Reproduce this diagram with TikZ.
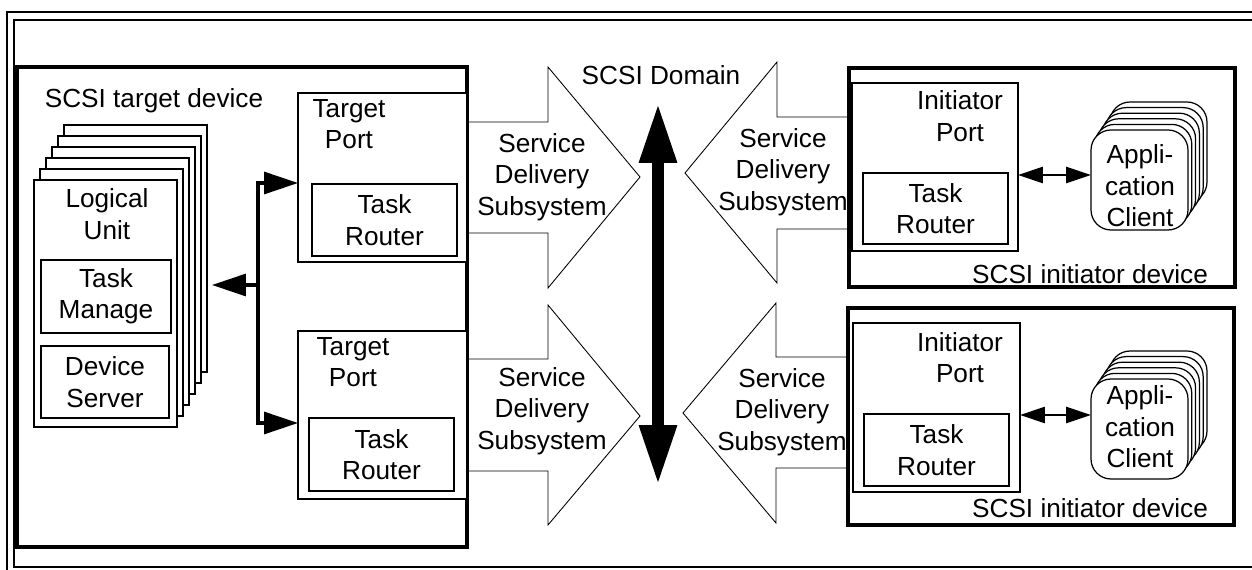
\documentclass[tikz,border=0pt]{standalone}
\usepackage{fontspec}
\setmainfont{Liberation Sans}
\usetikzlibrary{arrows.meta}
\usetikzlibrary{positioning}

\begin{document}
\begin{tikzpicture}[x=0.02cm, y=-0.02cm,
  font=\fontsize{14.9}{17.9}\selectfont,
  frame/.style={line width=1.2pt},
  devbox/.style={draw, line width=2pt, inner sep=0pt, outer sep=0pt},
  box/.style={draw, fill=white, line width=1.2pt, inner sep=0pt, outer sep=0pt, align=center},
  lbl/.style={align=center, inner sep=0pt},
  sds/.style={draw, line width=0.5pt, line join=miter},
  bus/.style={line width=1.8pt, >={Triangle[length=0.68cm,width=0.44cm]}},
  link/.style={line width=1.6pt, {Triangle[length=0.5cm,width=0.32cm]}-{Triangle[length=0.5cm,width=0.32cm]}},
  appbox/.style={draw, fill=white, line width=0.7pt, rounded corners=0.4cm, minimum width=1.94cm, minimum height=2cm, outer sep=0pt}
]
\useasboundingbox (0,0) rectangle (1252,570);
\draw[frame] (7,580) -- (7,12) -- (1262,12);
\draw[frame] (1262,20) -- (14,20) -- (14,567) -- (1262,567);

% target side
\node[devbox, minimum width=9cm, minimum height=9.6cm] (tdev) at (242,307) {};
\node[lbl] (tdevl) at (154,101) {SCSI target device};
\foreach \k in {5,...,1}
  \node[box, minimum width=2.86cm, minimum height=4.94cm] (lu\k) at ({105.5+6*\k},{303.5-11*\k}) {};
\node[box, minimum width=2.86cm, minimum height=4.94cm] (lu) at (105.5,303.5) {};
\node[lbl] (lul) at (107,214) {Logical\\Unit};
\node[box, minimum width=2.6cm, minimum height=1.46cm] (tm) at (106,296.5) {Task\\Manage};
\node[box, minimum width=2.56cm, minimum height=1.44cm] (ds) at (105,382) {Device\\Server};

\node[box, minimum width=3.38cm, minimum height=3.38cm] (tport1) at (382.5,177.5) {};
\node[lbl] (tport1l) at (349,124) {Target\\Port};
\node[box, minimum width=2.9cm, minimum height=1.44cm] (trt1) at (384.5,220) {Task\\Router};
\node[box, minimum width=3.38cm, minimum height=3.36cm] (tport2) at (382.5,415) {};
\node[lbl] (tport2l) at (353,362) {Target\\Port};
\node[box, minimum width=2.9cm, minimum height=1.46cm] (trt2) at (381.5,454.5) {Task\\Router};

\coordinate (jtop) at (258,183);
\coordinate (jbot) at (258,423);
\coordinate (jmid) at (258,285);
\draw[bus, <->] (jtop -| tport1.west) -- (jtop) -- (jbot) -- (jbot -| tport2.west);
\draw[bus, ->] (jmid) -- ([xshift=0.1cm]jmid -| lu5.east);

% service delivery subsystems
\draw[sds] (467,122) -- (548,122) -- (548,67) -- (640,177) -- (548,288) -- (548,233) -- (467,233);
\node[lbl] (sds1) at (542,177) {Service\\Delivery\\Subsystem};
\draw[sds] (467,359) -- (548,359) -- (548,305) -- (640,416) -- (548,525) -- (548,471) -- (467,471);
\node[lbl] (sds2) at (542,411) {Service\\Delivery\\Subsystem};
\draw[sds] (849,117) -- (777,117) -- (777,62) -- (685,173) -- (777,283) -- (777,229) -- (849,229);
\node[lbl] (sds3) at (783,172) {Service\\Delivery\\Subsystem};
\draw[sds] (848,357) -- (776,357) -- (776,303) -- (683,413) -- (776,523) -- (776,468) -- (848,468);
\node[lbl] (sds4) at (782,412) {Service\\Delivery\\Subsystem};

\coordinate (domtop) at (658,103);
\coordinate (dombot) at (658,485);
\draw[line width=0.24cm, {Triangle[length=1.2cm,width=0.7cm]}-{Triangle[length=1.2cm,width=0.7cm]}] (domtop) -- (dombot);
\node[lbl] (dom) at (661,75) {SCSI Domain};

% initiator side
\node[devbox, minimum width=7.72cm, minimum height=4.38cm] (idev1) at (1042,177.5) {};
\node[box, minimum width=3.32cm, minimum height=3.36cm] (iport1) at (935,167) {};
\node[lbl] (iport1l) at (960,116) {Initiator\\Port};
\node[box, minimum width=2.9cm, minimum height=1.42cm] (irt1) at (935.5,208.5) {Task\\Router};
\foreach \k in {5,...,1}
  \node[appbox] (appa\k) at ({1139.5+3.8*\k},{180-5.6*\k}) {};
\node[appbox] (appa) at (1139.5,180) {};
\node[lbl] (appal) at (1140,186) {Appli-\\cation\\Client};
\coordinate (lvl1) at (0,175);
\draw[link] (iport1.east |- lvl1) -- (appa.west |- lvl1);
\node[lbl] (idev1l) at (1090,274) {SCSI initiator device};

\node[devbox, minimum width=7.72cm, minimum height=4.34cm] (idev2) at (1041,416.5) {};
\node[box, minimum width=3.34cm, minimum height=3.38cm] (iport2) at (936.5,407.5) {};
\node[lbl] (iport2l) at (960,357.5) {Initiator\\Port};
\node[box, minimum width=2.9cm, minimum height=1.44cm] (irt2) at (936.5,450) {Task\\Router};
\foreach \k in {5,...,1}
  \node[appbox] (appb\k) at ({1139.5+3.8*\k},{429-5.6*\k}) {};
\node[appbox] (appb) at (1139.5,429) {};
\node[lbl] (appbl) at (1140,427) {Appli-\\cation\\Client};
\coordinate (lvl2) at (0,415);
\draw[link] (iport2.east |- lvl2) -- (appb.west |- lvl2);
\node[lbl] (idev2l) at (1090,508) {SCSI initiator device};
\end{tikzpicture}
\end{document}
